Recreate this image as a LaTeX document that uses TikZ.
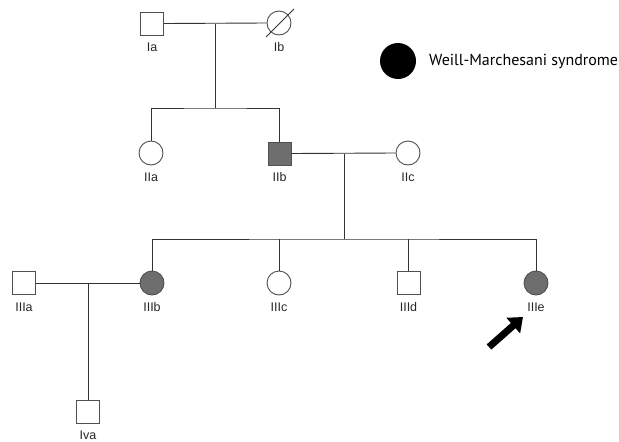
\documentclass[tikz,border=0pt]{standalone}
\usepackage{fontspec}
\setmainfont{Liberation Sans}
\newfontfamily\legendfont{PT Sans}
\usetikzlibrary{arrows.meta,calc}
\definecolor{affected}{HTML}{6E6E6E}
\definecolor{linegray}{HTML}{333333}
\definecolor{shapegray}{HTML}{505050}
\tikzset{
  male/.style={draw=shapegray, line width=0.9pt, rectangle, minimum size=23pt, inner sep=0pt, fill=white},
  female/.style={draw=shapegray, line width=0.9pt, circle, minimum size=24pt, inner sep=0pt, fill=white},
  sick/.style={fill=affected},
  idlabel/.style={font=\fontsize{12.5}{14}\selectfont, text=black!85, inner sep=0pt},
  link/.style={draw=linegray, line width=0.9pt},
}
\begin{document}
\begin{tikzpicture}[x=1pt,y=-1pt]
\useasboundingbox (0,0) rectangle (619,442);

% generation I
\node[male] (Ia) at (152,23.5) {};
\node[female] (Ib) at (279,23) {};
\node[idlabel] (Ial) at (152,47) {Ia};
\node[idlabel] (Ibl) at (279,47) {Ib};
\draw[link] ($(Ib)+(-13,14)$) -- ($(Ib)+(15,-14)$);

% generation II
\node[female] (IIa) at (151,153) {};
\node[male,sick] (IIb) at (279.5,153.5) {};
\node[female] (IIc) at (408,153) {};
\node[idlabel] (IIal) at (151,177) {IIa};
\node[idlabel] (IIbl) at (279.5,177) {IIb};
\node[idlabel] (IIcl) at (408,177) {IIc};

% generation III
\node[male] (IIIa) at (24,283) {};
\node[female,sick] (IIIb) at (152,283) {};
\node[female] (IIIc) at (279,283) {};
\node[male] (IIId) at (408.5,283) {};
\node[female,sick] (IIIe) at (536,283) {};
\node[idlabel] (IIIal) at (24,307) {IIIa};
\node[idlabel] (IIIbl) at (152,307) {IIIb};
\node[idlabel] (IIIcl) at (279,307) {IIIc};
\node[idlabel] (IIIdl) at (408.5,307) {IIId};
\node[idlabel] (IIIel) at (536,307) {IIIe};

% generation IV
\node[male] (IVa) at (88,412) {};
\node[idlabel] (IVal) at (88,435) {Iva};

% mating and sibship lines
\coordinate (m1) at (215,23.5);
\coordinate (s1) at (215,108);
\coordinate (m2) at (344,153.5);
\coordinate (s2) at (344,239);
\coordinate (m3) at (88,283);

\draw[link] (Ia.east) -- (Ib.west);
\draw[link] (m1) -- (s1);
\draw[link] (IIa.north) |- (s1) -| (IIb.north);

\draw[link] (IIb.east) -- (IIc.west);
\draw[link] (m2) -- (s2);
\draw[link] (IIIb.north) |- (s2) -| (IIIe.north);
\draw[link] (IIIc.north) -- (IIIc.north |- s2);
\draw[link] (IIId.north) -- (IIId.north |- s2);

\draw[link] (IIIa.east) -- (IIIb.west);
\draw[link] (m3) -- (IVa.north);

% proband arrow
\coordinate (pa) at (489,347);
\coordinate (pb) at (523,317);
\draw[line width=7pt, -{Triangle[length=13pt,width=20pt]}] (pa) -- (pb);

% legend
\node[circle, fill=black, minimum size=36pt, inner sep=0pt] (key) at (398,61) {};
\node[anchor=west, inner sep=0pt, font=\legendfont\fontsize{16}{18}\selectfont] (keytext) at (429,61) {Weill-Marchesani syndrome};
\end{tikzpicture}
\end{document}
